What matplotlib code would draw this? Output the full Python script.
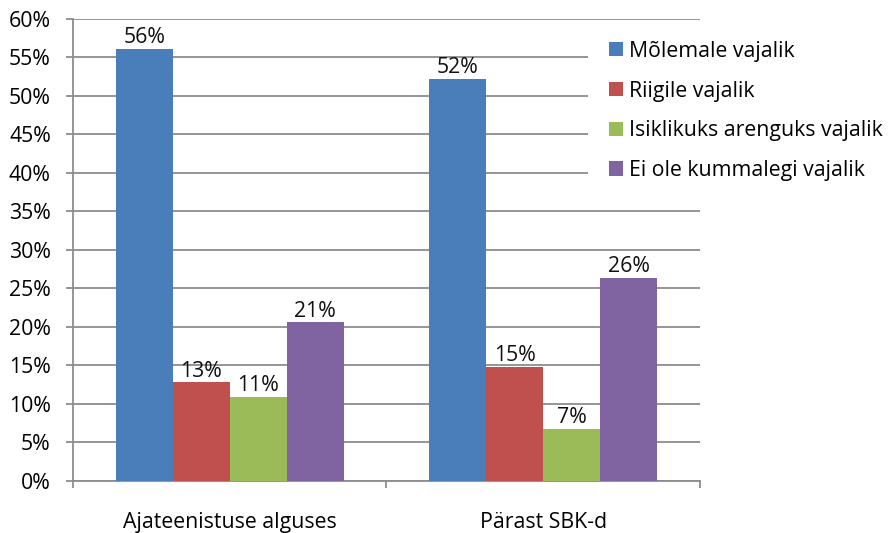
import matplotlib.pyplot as plt
import numpy as np
from matplotlib.ticker import FixedLocator, PercentFormatter

plt.rcParams['font.family'] = ['Open Sans', 'DejaVu Sans']

categories = ['Ajateenistuse alguses', 'Pärast SBK-d']
series = ['Mõlemale vajalik', 'Riigile vajalik', 'Isiklikuks arenguks vajalik',
          'Ei ole kummalegi vajalik']
values = [
    [56.1, 52.2],   # Mõlemale vajalik
    [12.8, 14.8],   # Riigile vajalik
    [10.9, 6.8],    # Isiklikuks arenguks vajalik
    [20.6, 26.4],   # Ei ole kummalegi vajalik
]
colors = ['#4A7EBB', '#C0504D', '#9BBB59', '#8064A2']

FS = 15.3
GRID = '#8c8c8c'

fig = plt.figure(figsize=(8.9, 5.33), dpi=100)
ax = fig.add_axes([0.082, 0.0976, 0.7045, 0.8668])

x = np.arange(len(categories))
w = 0.182
for i, (name, vals, c) in enumerate(zip(series, values, colors)):
    pos = x + (i - 1.5) * w
    bars = ax.bar(pos, vals, width=w, color=c, label=name, zorder=3)
    for b, v in zip(bars, vals):
        ax.text(b.get_x() + b.get_width() / 2, v + 0.1, f'{v:.0f}%',
                ha='center', va='bottom', fontsize=FS, color='#111111', zorder=4)

ax.set_xlim(-0.5, 1.5)
ax.set_ylim(0, 60)
ax.set_yticks(np.arange(0, 61, 5))
ax.yaxis.set_major_formatter(PercentFormatter(decimals=0))
ax.grid(axis='y', color=GRID, linewidth=1.3, zorder=0)

ax.set_xticks(x)
ax.set_xticklabels(categories)
ax.xaxis.set_minor_locator(FixedLocator([-0.5, 0.5, 1.5]))
ax.tick_params(axis='x', which='major', length=0, pad=22, labelsize=FS)
ax.tick_params(axis='x', which='minor', length=5, width=1.3, color=GRID)
ax.tick_params(axis='y', length=5, width=1.3, color=GRID, labelsize=FS, pad=11)

for s in ['top', 'right']:
    ax.spines[s].set_visible(False)
for s in ['left', 'bottom']:
    ax.spines[s].set_color(GRID)
    ax.spines[s].set_linewidth(1.3)

# white legend box hides the gridlines behind it, like the original
leg = ax.legend(loc='upper left', bbox_to_anchor=(588 / 890, 1 - 20 / 533),
                bbox_transform=fig.transFigure, frameon=True, facecolor='white',
                edgecolor='none', framealpha=1, fancybox=False,
                fontsize=FS, handlelength=0.65, handleheight=0.65,
                handletextpad=0.3, labelspacing=0.88, borderpad=0.98,
                borderaxespad=0)
leg.set_zorder(5)

fig.savefig('out.png', dpi=100)
